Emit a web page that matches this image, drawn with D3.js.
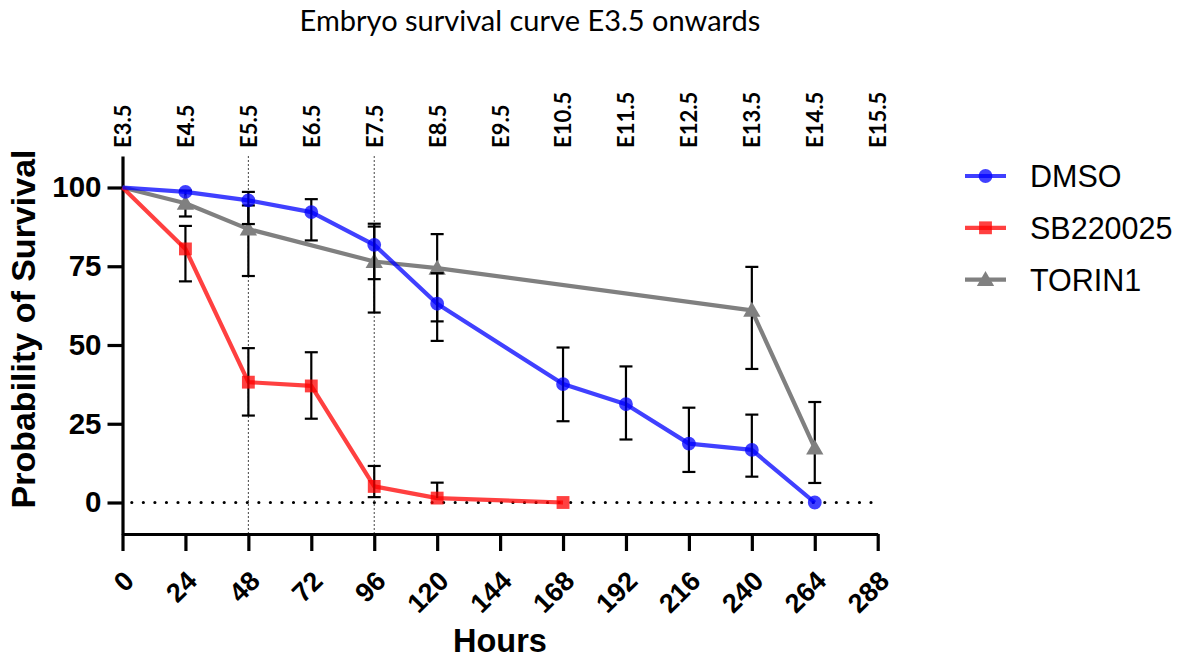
<!DOCTYPE html>
<html>
<head>
<meta charset="utf-8">
<script src="https://cdn.jsdelivr.net/npm/d3@7"></script>
<style>
  html, body { margin: 0; padding: 0; background: #fff; }
  svg { display: block; }
</style>
</head>
<body>
<svg id="chart" width="1190" height="661"></svg>
<script>
// Hours after E3.5 and the matching embryonic-day labels
const hourTicks = [0, 24, 48, 72, 96, 120, 144, 168, 192, 216, 240, 264, 288];
const stageLabels = ["E3.5", "E4.5", "E5.5", "E6.5", "E7.5", "E8.5", "E9.5", "E10.5", "E11.5", "E12.5", "E13.5", "E14.5", "E15.5"];
const survivalTicks = [0, 25, 50, 75, 100];
const markedHours = [48, 96];

// DMSO
const dmsoHours = [0, 24, 48, 72, 96, 120, 168, 192, 216, 240, 264];
const dmsoSurvival = [100, 98.6, 95.9, 92.2, 81.8, 63.1, 37.6, 31.2, 18.7, 16.7, 0];
const dmsoLower = [null, null, 88.4, 83.2, 70.9, 51.3, 25.8, 20.0, 9.7, 8.2, null];
const dmsoUpper = [null, null, 98.6, 96.3, 88.5, 72.8, 49.2, 43.2, 30.1, 27.9, null];

// SB220025
const sbHours = [0, 24, 48, 72, 96, 120, 168];
const sbSurvival = [100, 80.5, 38.2, 37.0, 5.1, 1.4, 0];
const sbLower = [null, 70.2, 27.6, 26.6, 1.7, null, null];
const sbUpper = [null, 87.8, 49.0, 47.7, 11.6, 6.3, null];

// TORIN1
const torinHours = [0, 24, 48, 96, 120, 240, 264];
const torinSurvival = [100, 95.0, 86.8, 76.5, 74.4, 61.0, 17.3];
const torinLower = [null, 90.8, 71.9, 60.3, 57.5, 42.4, 6.2];
const torinUpper = [null, 99.0, 94.3, 87.6, 85.2, 74.8, 31.9];

const seriesNames = ["DMSO", "SB220025", "TORIN1"];
const seriesColors = ["#0000ff", "#ff0000", "#808080"];
const seriesOpacity = [0.75, 0.75, 1];
const seriesShapes = [d3.symbolCircle, d3.symbolSquare, d3.symbolTriangle];

const svg = d3.select("#chart");
const sans = "'Liberation Sans', Arial, sans-serif";
const humanist = "Lato, 'Open Sans', sans-serif";

const x = d3.scaleLinear().domain([0, 288]).range([122.5, 877.7]);
const y = d3.scaleLinear().domain([-10, 110]).range([534, 156]);

// Title
svg.append("text")
  .attr("x", 530).attr("y", 31)
  .attr("text-anchor", "middle")
  .style("font-family", humanist)
  .style("font-size", "29px")
  .text("Embryo survival curve E3.5 onwards");

// Reference lines: dotted zero line and the two marked time points
const dotGap = 11.55;
svg.append("line")
  .attr("x1", x(0) + 9.3).attr("x2", x(0) + 9.3 + 64 * dotGap + 0.5)
  .attr("y1", y(0)).attr("y2", y(0))
  .attr("stroke", "#000").attr("stroke-width", 3.2)
  .attr("stroke-linecap", "round")
  .attr("stroke-dasharray", `0,${dotGap}`);

svg.selectAll("line.marked")
  .data(markedHours)
  .enter().append("line")
  .attr("class", "marked")
  .attr("x1", d => x(d)).attr("x2", d => x(d))
  .attr("y1", y(110)).attr("y2", y(-10))
  .attr("stroke", "#444").attr("stroke-width", 1)
  .attr("stroke-dasharray", "2,2");

// Axes
const xAxis = svg.append("g")
  .attr("transform", `translate(0,${y(-10)})`)
  .call(d3.axisBottom(x).tickValues(hourTicks).tickSize(17).tickSizeOuter(0).tickFormat(d3.format("d")));
xAxis.select(".domain").attr("stroke-width", 3.2);
xAxis.selectAll(".tick line").attr("stroke-width", 3.2);
xAxis.selectAll(".tick text")
  .style("font-family", sans)
  .style("font-weight", "bold")
  .style("font-size", "27px")
  .attr("text-anchor", "end")
  .attr("transform", "translate(6,42) rotate(-45)")
  .attr("dy", "0.35em")
  .attr("y", 0).attr("x", 0);

const yAxis = svg.append("g")
  .attr("transform", `translate(${x(0)},0)`)
  .call(d3.axisLeft(y).tickValues(survivalTicks).tickSize(15).tickSizeOuter(0).tickFormat(d3.format("d")));
yAxis.select(".domain").attr("stroke-width", 3.2);
yAxis.selectAll(".tick line").attr("stroke-width", 3.2);
yAxis.selectAll(".tick text")
  .style("font-family", sans)
  .style("font-weight", "bold")
  .style("font-size", "29.5px")
  .attr("x", -21);

const topAxis = svg.append("g")
  .attr("transform", "translate(0,148)")
  .call(d3.axisTop(x).tickValues(hourTicks).tickSize(0).tickFormat((d, i) => stageLabels[i]));
topAxis.select(".domain").remove();
topAxis.selectAll(".tick text")
  .style("font-family", humanist)
  .style("font-weight", "bold")
  .style("font-size", "22px")
  .attr("text-anchor", "start")
  .attr("transform", "rotate(-90)")
  .attr("x", 0).attr("y", 0)
  .attr("dy", "0.36em");

// Axis titles
svg.append("text")
  .attr("transform", "translate(35,329) rotate(-90)")
  .attr("text-anchor", "middle")
  .style("font-family", sans)
  .style("font-weight", "bold")
  .style("font-size", "34px")
  .text("Probability of Survival");

svg.append("text")
  .attr("x", 500).attr("y", 652)
  .attr("text-anchor", "middle")
  .style("font-family", sans)
  .style("font-weight", "bold")
  .style("font-size", "32.5px")
  .text("Hours");

// Series
const series = [
  { hours: dmsoHours, values: dmsoSurvival, lower: dmsoLower, upper: dmsoUpper },
  { hours: sbHours, values: sbSurvival, lower: sbLower, upper: sbUpper },
  { hours: torinHours, values: torinSurvival, lower: torinLower, upper: torinUpper }
].map((s, i) => ({
  ...s,
  name: seriesNames[i], color: seriesColors[i], opacity: seriesOpacity[i], shape: seriesShapes[i],
  points: s.hours.map((h, j) => ({ h, v: s.values[j], lo: s.lower[j], hi: s.upper[j] }))
}));

const drawOrder = [2, 1, 0];
const line = d3.line().x(d => x(d.h)).y(d => y(d.v));
const capHalf = 6.5;
const markerSize = shape => shape === d3.symbolCircle ? 150 : shape === d3.symbolSquare ? 165 : 130;
const markerShift = shape => shape === d3.symbolTriangle ? 1.5 : 0;

drawOrder.forEach(i => {
  const s = series[i];
  const g = svg.append("g");
  g.append("path")
    .datum(s.points)
    .attr("d", line)
    .attr("fill", "none")
    .attr("stroke", s.color)
    .attr("stroke-opacity", s.opacity)
    .attr("stroke-width", 4.2)
    .attr("stroke-linejoin", "round");

  // Error bars
  const eb = g.append("g").attr("stroke", "#000").attr("stroke-width", 2.2);
  s.points.forEach(p => {
    if (p.hi == null && p.lo == null) return;
    const top = p.hi != null ? p.hi : p.v;
    const bot = p.lo != null ? p.lo : p.v;
    eb.append("line").attr("x1", x(p.h)).attr("x2", x(p.h)).attr("y1", y(top)).attr("y2", y(bot));
    if (p.hi != null) eb.append("line").attr("x1", x(p.h) - capHalf).attr("x2", x(p.h) + capHalf).attr("y1", y(p.hi)).attr("y2", y(p.hi));
    if (p.lo != null) eb.append("line").attr("x1", x(p.h) - capHalf).attr("x2", x(p.h) + capHalf).attr("y1", y(p.lo)).attr("y2", y(p.lo));
  });

  // Markers (the curve starts at 100 % without a marker)
  g.selectAll("path.marker")
    .data(s.points.slice(1))
    .enter().append("path")
    .attr("class", "marker")
    .attr("transform", d => `translate(${x(d.h)},${y(d.v) + markerShift(s.shape)})`)
    .attr("d", d3.symbol().type(s.shape).size(markerSize(s.shape)))
    .attr("fill", s.color)
    .attr("fill-opacity", s.opacity);
});

// Legend
const legend = svg.append("g");
series.forEach((s, i) => {
  const ly = 176 + i * 51.8;
  legend.append("line")
    .attr("x1", 965).attr("x2", 1006).attr("y1", ly).attr("y2", ly)
    .attr("stroke", s.color).attr("stroke-opacity", s.opacity).attr("stroke-width", 4.2);
  legend.append("path")
    .attr("transform", `translate(985.5,${ly + markerShift(s.shape)})`)
    .attr("d", d3.symbol().type(s.shape).size(markerSize(s.shape)))
    .attr("fill", s.color).attr("fill-opacity", s.opacity);
  legend.append("text")
    .attr("x", 1030).attr("y", ly)
    .attr("dy", "0.36em")
    .style("font-family", sans)
    .style("font-size", "30.5px")
    .text(s.name);
});
</script>
</body>
</html>
